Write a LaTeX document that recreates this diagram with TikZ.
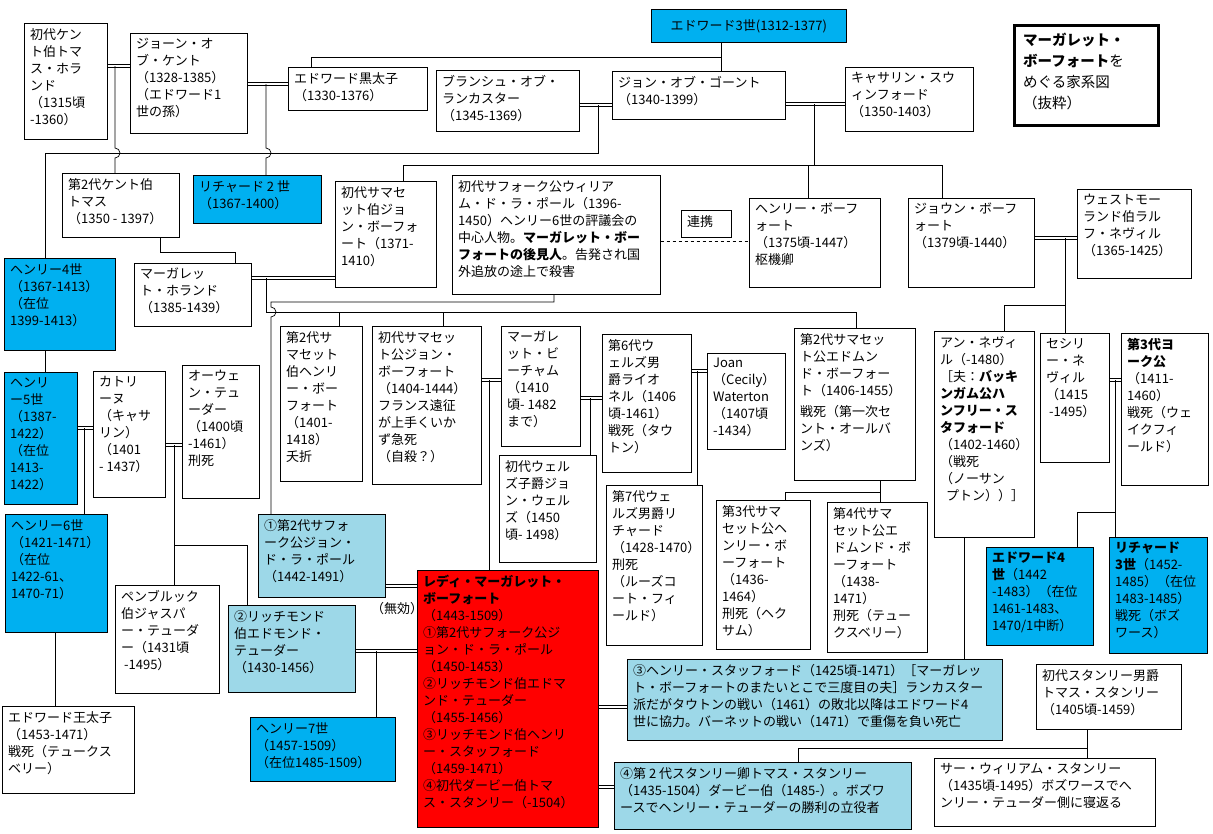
\documentclass[tikz,border=0pt]{standalone}
\usepackage{fontspec}
\setmainfont{Noto Sans CJK JP}
\usepackage{tikz}
\definecolor{royal}{HTML}{00B0F0}
\definecolor{pale}{HTML}{9DD8E8}
\definecolor{lady}{HTML}{FF0000}
\tikzset{
  pbox/.style={draw, line width=0.7pt, fill=white, inner sep=0pt},
  kingbox/.style={pbox, fill=royal},
  husbox/.style={pbox, fill=pale},
  ladybox/.style={pbox, fill=lady},
  ptxt/.style={align=left, inner sep=0pt, anchor=north west, font=\fontsize{13}{17}\selectfont},
  line/.style={line width=0.7pt},
  marr/.style={double, double distance=2pt, line width=0.6pt}
}
% box: name, x1, y1, x2, y2, style, text
\newcommand\person[7]{%
  \node[#6, anchor=north west, minimum width=#4pt-#2pt, minimum height=#5pt-#3pt] (#1) at (#2,#3) {};
  \node[ptxt] at ([xshift=6pt,yshift=-5pt]#1.north west) {#7};}
\begin{document}
\begin{tikzpicture}[x=1pt,y=-1pt]
\useasboundingbox (0,0) rectangle (1213,833);
%%% first generation
\node[kingbox, minimum width=195pt, minimum height=33pt, anchor=north west] (edw3) at (651,9) {};
\node[ptxt, anchor=center] at (edw3.center) {エドワード3世(1312-1377)};
\node[draw, line width=2.5pt, minimum width=144pt, minimum height=100pt, anchor=north west] (title) at (1013,24) {};
\node[ptxt, font=\fontsize{14.5}{21}\selectfont] at ([xshift=10pt,yshift=-9pt]title.north west)
  {\textbf{マーガレット・}\\\textbf{ボーフォート}を\\めぐる家系図\\（抜粋）};
\person{kent1}{24}{23}{107}{139}{pbox}{初代ケン\\ト伯トマ\\ス・ホラ\\ンド\\（1315頃\\-1360）}
\person{joan}{130}{33}{247}{133}{pbox}{ジョーン・オ\\ブ・ケント\\（1328-1385）\\（エドワード1\\世の孫）}
\person{bp}{288}{67}{427}{110}{pbox}{エドワード黒太子\\（1330-1376）}
\person{blanche}{436}{70}{579}{131}{pbox}{ブランシュ・オブ・\\ランカスター\\（1345-1369）}
\person{gaunt}{612}{71}{785}{119}{pbox}{ジョン・オブ・ゴーント\\（1340-1399）}
\person{swyn}{845}{67}{973}{131}{pbox}{キャサリン・スウ\\ィンフォード\\（1350-1403）}
%%% second generation
\person{kent2}{62}{173}{179}{237}{pbox}{第2代ケント伯\\トマス\\（1350 - 1397）}
\person{rich2}{193}{175}{321}{223}{kingbox}{リチャード 2 世\\（1367-1400）}
\person{som1}{335}{181}{436}{287}{pbox}{初代サマセ\\ット伯ジョ\\ン・ボーフォ\\ート（1371-\\1410）}
\person{suff1}{452}{175}{660}{294}{pbox}{初代サフォーク公ウィリア\\ム・ド・ラ・ポール（1396-\\1450）ヘンリー6世の評議会の\\中心人物。\textbf{マーガレット・ボー}\\\textbf{フォートの後見人}。告発され国\\外追放の途上で殺害}
\person{renkei}{681}{210}{731}{237}{pbox}{連携}
\person{hbeau}{749}{198}{880}{287}{pbox}{ヘンリー・ボーフ\\ォート\\（1375頃-1447）\\枢機卿}
\person{joanb}{908}{198}{1034}{287}{pbox}{ジョウン・ボーフ\\ォート\\（1379頃-1440）}
\person{westm}{1077}{189}{1191}{278}{pbox}{ウェストモー\\ランド伯ラル\\フ・ネヴィル\\（1365-1425）}
\person{henry4}{4}{258}{115}{350}{kingbox}{ヘンリー4世\\（1367-1413）\\（在位\\1399-1413）}
\person{mholl}{134}{263}{251}{326}{pbox}{マーガレッ\\ト・ホランド\\（1385-1439）}
%%% third generation
\person{som2}{280}{326}{362}{481}{pbox}{第2代サ\\マセット\\伯ヘンリ\\ー・ボー\\フォート\\（1401-\\1418）\\夭折}
\person{somd1}{372}{326}{481}{484}{pbox}{初代サマセッ\\ト公ジョン・\\ボーフォート\\（1404-1444）\\フランス遠征\\が上手くいか\\ず急死\\（自殺？）}
\person{mbeau}{501}{326}{580}{446}{pbox}{マーガレ\\ット・ビ\\ーチャム\\（1410\\頃- 1482\\まで）}
\person{wells6}{602}{334}{691}{472}{pbox}{第6代ウ\\ェルズ男\\爵ライオ\\ネル（1406\\頃-1461）\\戦死（タウ\\トン）}
\person{joanw}{707}{353}{785}{449}{pbox}{Joan\\（Cecily）\\Waterton\\（1407頃\\-1434）}
\person{edm2}{794}{328}{915}{480}{pbox}{第2代サマセッ\\ト公エドムン\\ド・ボーフォー\\ト（1406-1455）\\[4pt]戦死（第一次セ\\ント・オールバ\\ンズ）}
\person{anne}{934}{331}{1034}{537}{pbox}{アン・ネヴィ\\ル（-1480）\\［夫：\textbf{バッキ}\\\textbf{ンガム公ハ}\\\textbf{ンフリー・ス}\\\textbf{タフォード}\\（1402-1460）\\（戦死\\（ノーサン\\\ \ プトン））］}
\person{cecily}{1040}{333}{1109}{462}{pbox}{セシリ\\ー・ネ\\ヴィル\\（1415\\\ -1495）}
\person{york3}{1121}{333}{1208}{485}{pbox}{\textbf{第3代ヨ}\\\textbf{ーク公}\\（1411-\\1460）\\戦死（ウェ\\イクフィ\\ールド）}
\person{henry5}{4}{372}{77}{504}{kingbox}{ヘンリ\\ー5世\\（1387-\\1422）\\（在位\\1413-\\1422）}
\person{cath}{93}{371}{165}{497}{pbox}{カトリ\\ーヌ\\（キャサ\\リン）\\（1401\\- 1437）}
\person{owen}{182}{365}{259}{498}{pbox}{オーウェ\\ン・テュ\\ーダー\\（1400頃\\-1461）\\刑死}
%%% fourth generation
\person{wells1}{499}{455}{596}{562}{pbox}{初代ウェル\\ズ子爵ジョ\\ン・ウェル\\ズ（1450\\頃- 1498）}
\person{wells7}{606}{485}{702}{645}{pbox}{第7代ウェ\\ルズ男爵リ\\チャード\\（1428-1470）\\刑死\\（ルーズコ\\ート・フィ\\ールド）}
\person{som3}{716}{500}{810}{649}{pbox}{第3代サマ\\セット公ヘ\\ンリー・ボ\\ーフォート\\（1436-\\1464）\\刑死（ヘク\\サム）}
\person{som4}{827}{502}{927}{652}{pbox}{第4代サマ\\セット公エ\\ドムンド・ボ\\ーフォート\\（1438-\\1471）\\刑死（テュー\\クスベリー）}
\person{edw4}{986}{547}{1093}{645}{kingbox}{\textbf{エドワード4}\\\textbf{世}（1442\\-1483）（在位\\1461-1483、\\1470/1中断）}
\person{rich3}{1109}{537}{1207}{653}{kingbox}{\textbf{リチャード}\\\textbf{3世}（1452-\\1485）（在位\\1483-1485）\\戦死（ボズ\\ワース）}
\person{henry6}{5}{514}{107}{632}{kingbox}{ヘンリー6世\\（1421-1471）\\（在位\\1422-61、\\1470-71）}
\person{suff2}{258}{514}{385}{597}{husbox}{①第2代サフォ\\ーク公ジョン・\\ド・ラ・ポール\\（1442-1491）}
\person{pemb}{115}{585}{219}{693}{pbox}{ペンブルック\\伯ジャスパ\\ー・テューダ\\ー（1431頃\\\ -1495）}
\person{edmt}{228}{605}{355}{692}{husbox}{②リッチモンド\\伯エドモンド・\\テューダー\\（1430-1456）}
\node[ptxt] (void) at (371,602) {（無効）};
\person{margaret}{417}{570}{598}{827}{ladybox}{\textbf{レディ・マーガレット・}\\\textbf{ボーフォート}\\（1443-1509）\\①第2代サフォーク公ジ\\ョン・ド・ラ・ポール\\（1450-1453）\\②リッチモンド伯エドマ\\ンド・テューダー\\（1455-1456）\\③リッチモンド伯ヘンリ\\ー・スタッフォード\\（1459-1471）\\④初代ダービー伯トマ\\ス・スタンリー（-1504）}
\person{prince}{2}{706}{134}{793}{pbox}{エドワード王太子\\（1453-1471）\\戦死（テュークス\\ベリー）}
\person{henry7}{250}{717}{395}{781}{kingbox}{ヘンリー7世\\（1457-1509）\\（在位1485-1509）}
\person{stafford}{627}{659}{1002}{740}{husbox}{③ヘンリー・スタッフォード（1425頃-1471）［マーガレッ\\ト・ボーフォートのまたいとこで三度目の夫］ランカスター\\派だがタウトンの戦い（1461）の敗北以降はエドワード4\\世に協力。バーネットの戦い（1471）で重傷を負い死亡}
\person{stan1}{1036}{664}{1181}{729}{pbox}{初代スタンリー男爵\\トマス・スタンリー\\（1405頃-1459）}
\person{stan2}{614}{762}{911}{829}{husbox}{④第 2 代スタンリー卿トマス・スタンリー\\（1435-1504）ダービー伯（1485-）。ボズワ\\ースでヘンリー・テューダーの勝利の立役者}
\person{william}{934}{758}{1155}{826}{pbox}{サー・ウィリアム・スタンリー\\（1435頃-1495）ボズワースでへ\\ンリー・テューダー側に寝返る}
%%% marriages
\draw[marr] (kent1.east|-0,66) -- (joan.west|-0,66);
\draw[marr] (joan.east|-0,84) -- (bp.west|-0,84);
\draw[marr] (blanche.east|-0,105) -- (gaunt.west|-0,105);
\draw[marr] (gaunt.east|-0,104) -- (swyn.west|-0,104);
\draw[marr] (joanb.east|-0,238) -- (westm.west|-0,238);
\draw[marr] (mholl.east|-0,278) -- (som1.west|-0,278);
\draw[marr] (somd1.east|-0,380) -- (mbeau.west|-0,380);
\draw[marr] (mbeau.east|-0,398) -- (wells6.west|-0,398);
\draw[marr] (wells6.east|-0,371) -- (joanw.west|-0,371);
\draw[marr] (cecily.east|-0,380) -- (york3.west|-0,380);
\draw[marr] (henry5.east|-0,428) -- (cath.west|-0,428);
\draw[marr] (cath.east|-0,445) -- (owen.west|-0,445);
\draw[marr] (suff2.east|-0,586) -- (margaret.west|-0,586);
\draw[marr] (edmt.east|-0,651) -- (margaret.west|-0,651);
\draw[marr] (margaret.east|-0,707) -- (stafford.west|-0,707);
\draw[marr] (margaret.east|-0,787) -- (stan2.west|-0,787);
%%% descent
\draw[line] (edw3.south-|721,0) -- (721,57) -- (311,57) -- (bp.north-|311,0);
\draw[line] (edw3.south-|721,0) -- (gaunt.north-|721,0);
\draw[line] (45,258) -- (45,153) -- (598,153) -- (598,105);
\draw[line] (115,66) -- (115,148) arc[start angle=90, end angle=-90, radius=5pt] -- (kent2.north-|115,0);
\draw[line] (266,84) -- (266,148) arc[start angle=90, end angle=-90, radius=5pt] -- (rich2.north-|266,0);
\draw[line] (814,104) -- (814,165);
\draw[line] (som1.north-|403,0) -- (403,165) -- (942,165) -- (joanb.north-|942,0);
\draw[line] (808,165) -- (hbeau.north-|808,0);
\draw[line, dashed] (suff1.east|-0,241) -- (hbeau.west|-0,241);
\draw[line] (1065,238) -- (cecily.north-|1065,0);
\draw[line] (1065,305) -- (1004,305) -- (anne.north-|1004,0);
\draw[line] (kent2.south-|160,0) -- (160,252) -- (235,252) -- (mholl.north-|235,0);
\draw[line] (266,278) -- (266,312) -- (856,312) -- (edm2.north-|856,0);
\draw[line] (339,312) -- (som2.north-|339,0);
\draw[line] (443,312) -- (somd1.north-|443,0);
\draw[line] (suff1.south-|554,0) -- (554,302) -- (271,302) -- (271,307) arc[start angle=90, end angle=-90, radius=5pt] -- (suff2.north-|271,0);
\draw[line] (489,380) -- (margaret.north-|489,0);
\draw[line] (590,398) -- (wells1.north-|590,0);
\draw[line] (697,371) -- (wells7.north-|697,0);
\draw[line] (edm2.south-|880,0) -- (880,492) -- (785,492) -- (som3.north-|785,0);
\draw[line] (880,492) -- (som4.north-|880,0);
\draw[line] (1115,380) -- (rich3.north-|1115,0);
\draw[line] (1115,512) -- (1077,512) -- (edw4.north-|1077,0);
\draw[line] (anne.south-|964,0) -- (stafford.north-|964,0);
\draw[line] (henry4.south-|45,0) -- (henry5.north-|45,0);
\draw[line] (84,428) -- (henry6.north-|84,0);
\draw[line] (174,445) -- (pemb.north-|174,0);
\draw[line] (174,545) -- (247,545) -- (edmt.north-|247,0);
\draw[line] (henry6.south-|55,0) -- (prince.north-|55,0);
\draw[line] (376,651) -- (henry7.north-|376,0);
\draw[line] (stan1.south-|1087,0) -- (1087,748) -- (798,748) -- (stan2.north-|798,0);
\draw[line] (1087,748) -- (william.north-|1087,0);
\end{tikzpicture}
\end{document}
